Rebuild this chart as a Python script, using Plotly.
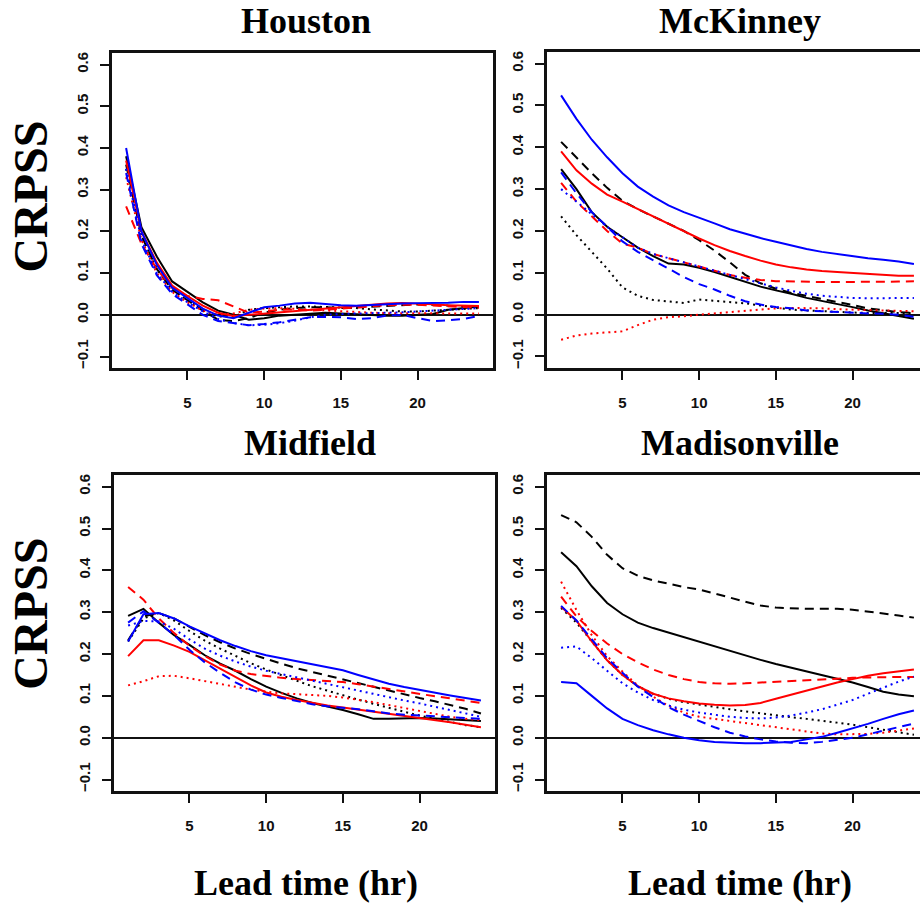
import plotly.graph_objects as go

# Lead times (hours)
LEAD = list(range(1, 25))

# ---- Houston ----
HOU_BLACK_SOLID = [0.38, 0.21, 0.14, 0.08, 0.055, 0.03, 0.01, 0.0, -0.012, -0.008, -0.002, 0.0,
                   0.003, 0.005, 0.003, 0.001, 0.0, -0.002, -0.002, 0.0, 0.002, 0.012, 0.016, 0.02]
HOU_BLACK_DASH = [0.36, 0.19, 0.11, 0.06, 0.035, 0.01, -0.012, -0.015, -0.008, 0.005, 0.012, 0.016,
                  0.018, 0.018, 0.016, 0.018, 0.02, 0.022, 0.024, 0.025, 0.024, 0.022, 0.02, 0.018]
HOU_BLACK_DOT = [0.35, 0.19, 0.11, 0.06, 0.035, 0.012, -0.004, -0.005, 0.012, 0.016, 0.018, 0.02,
                 0.02, 0.019, 0.018, 0.016, 0.013, 0.01, 0.008, 0.008, 0.01, 0.012, 0.014, 0.016]
HOU_RED_SOLID = [0.37, 0.2, 0.125, 0.07, 0.045, 0.022, 0.005, -0.003, 0.0, 0.003, 0.006, 0.009,
                 0.012, 0.015, 0.017, 0.02, 0.024, 0.027, 0.028, 0.027, 0.025, 0.023, 0.022, 0.021]
HOU_RED_DASH = [0.26, 0.17, 0.11, 0.065, 0.045, 0.038, 0.035, 0.02, 0.005, 0.008, 0.012, 0.013,
                0.01, 0.012, 0.015, 0.018, 0.021, 0.023, 0.024, 0.024, 0.022, 0.02, 0.018, 0.017]
HOU_RED_DOT = [0.33, 0.18, 0.1, 0.055, 0.03, 0.01, 0.0, 0.003, 0.012, 0.015, 0.016, 0.014,
               0.012, 0.01, 0.008, 0.006, 0.005, 0.004, 0.004, 0.004, 0.003, 0.003, 0.003, 0.003]
HOU_BLUE_SOLID = [0.40, 0.2, 0.12, 0.065, 0.04, 0.015, -0.002, -0.008, 0.005, 0.018, 0.022, 0.027,
                  0.029, 0.026, 0.023, 0.022, 0.024, 0.026, 0.027, 0.028, 0.028, 0.029, 0.031, 0.031]
HOU_BLUE_DASH = [0.34, 0.17, 0.095, 0.05, 0.025, 0.0, -0.015, -0.02, -0.025, -0.022, -0.018, -0.012,
                 -0.006, -0.005, -0.006, -0.01, -0.008, -0.002, 0.0, -0.008, -0.015, -0.013, -0.01, -0.003]
HOU_BLUE_DOT = [0.35, 0.18, 0.1, 0.055, 0.03, 0.008, -0.01, -0.02, -0.025, -0.024, -0.02, -0.014,
                -0.006, 0.0, 0.002, 0.003, 0.003, 0.004, 0.006, 0.008, 0.01, 0.012, 0.014, 0.016]

# ---- McKinney ----
MCK_BLACK_SOLID = [0.348, 0.30, 0.245, 0.21, 0.185, 0.16, 0.14, 0.122, 0.12, 0.112, 0.102, 0.09,
                   0.078, 0.067, 0.058, 0.05, 0.04, 0.033, 0.026, 0.018, 0.01, 0.003, -0.003, -0.01]
MCK_BLACK_DASH = [0.413, 0.375, 0.338, 0.303, 0.272, 0.252, 0.235, 0.218, 0.2, 0.178, 0.153, 0.125,
                  0.095, 0.075, 0.062, 0.052, 0.045, 0.037, 0.03, 0.023, 0.015, 0.01, 0.006, 0.004]
MCK_BLACK_DOT = [0.235, 0.19, 0.15, 0.11, 0.065, 0.045, 0.035, 0.032, 0.028, 0.036, 0.033, 0.03,
                 0.027, 0.022, 0.017, 0.012, 0.01, 0.008, 0.006, 0.005, 0.004, 0.004, 0.004, 0.004]
MCK_RED_SOLID = [0.39, 0.345, 0.313, 0.287, 0.27, 0.252, 0.236, 0.218, 0.2, 0.182, 0.166, 0.152,
                 0.14, 0.129, 0.12, 0.113, 0.108, 0.104, 0.102, 0.1, 0.098, 0.095, 0.093, 0.093]
MCK_RED_DASH = [0.315, 0.27, 0.235, 0.2, 0.17, 0.16, 0.145, 0.135, 0.125, 0.115, 0.105, 0.095,
                0.088, 0.083, 0.08, 0.079, 0.078, 0.078, 0.078, 0.078, 0.078, 0.079, 0.079, 0.08]
MCK_RED_DOT = [-0.06, -0.05, -0.045, -0.042, -0.04, -0.025, -0.012, -0.006, -0.004, 0.0, 0.003, 0.006,
               0.009, 0.013, 0.015, 0.016, 0.016, 0.015, 0.013, 0.012, 0.011, 0.01, 0.009, 0.008]
MCK_BLUE_SOLID = [0.524, 0.468, 0.418, 0.376, 0.338, 0.306, 0.282, 0.261, 0.245, 0.232, 0.218, 0.204,
                  0.193, 0.183, 0.174, 0.165, 0.157, 0.15, 0.145, 0.139, 0.135, 0.131, 0.127, 0.121]
MCK_BLUE_DASH = [0.34, 0.29, 0.245, 0.21, 0.175, 0.15, 0.13, 0.11, 0.09, 0.073, 0.06, 0.045,
                 0.032, 0.024, 0.018, 0.015, 0.01, 0.008, 0.006, 0.004, 0.003, 0.002, 0.0, -0.005]
MCK_BLUE_DOT = [0.30, 0.27, 0.24, 0.21, 0.185, 0.16, 0.145, 0.135, 0.125, 0.115, 0.105, 0.095,
                0.085, 0.075, 0.065, 0.057, 0.05, 0.045, 0.042, 0.04, 0.039, 0.039, 0.039, 0.04]

# ---- Midfield ----
MID_BLACK_SOLID = [0.291, 0.308, 0.275, 0.245, 0.222, 0.197, 0.177, 0.16, 0.14, 0.122, 0.107, 0.094,
                   0.083, 0.075, 0.066, 0.056, 0.045, 0.045, 0.046, 0.047, 0.046, 0.044, 0.042, 0.04]
MID_BLACK_DASH = [0.233, 0.29, 0.298, 0.285, 0.265, 0.245, 0.228, 0.213, 0.2, 0.188, 0.177, 0.166,
                  0.157, 0.148, 0.139, 0.131, 0.122, 0.113, 0.104, 0.095, 0.087, 0.078, 0.069, 0.058]
MID_BLACK_DOT = [0.23, 0.285, 0.298, 0.28, 0.255, 0.232, 0.213, 0.195, 0.178, 0.163, 0.149, 0.136,
                 0.123, 0.112, 0.101, 0.091, 0.081, 0.071, 0.062, 0.053, 0.045, 0.037, 0.03, 0.025]
MID_RED_SOLID = [0.195, 0.233, 0.233, 0.22, 0.205, 0.185, 0.165, 0.145, 0.125, 0.108, 0.098, 0.09,
                 0.083, 0.077, 0.072, 0.067, 0.062, 0.057, 0.053, 0.048, 0.043, 0.037, 0.031, 0.025]
MID_RED_DASH = [0.36, 0.33, 0.285, 0.25, 0.22, 0.195, 0.175, 0.16, 0.152, 0.147, 0.143, 0.14,
                0.138, 0.136, 0.133, 0.128, 0.122, 0.116, 0.11, 0.104, 0.099, 0.094, 0.089, 0.083]
MID_RED_DOT = [0.125, 0.135, 0.147, 0.148, 0.142, 0.135, 0.128, 0.122, 0.115, 0.11, 0.106, 0.104,
               0.102, 0.1, 0.096, 0.091, 0.085, 0.078, 0.071, 0.064, 0.057, 0.05, 0.045, 0.042]
MID_BLUE_SOLID = [0.23, 0.295, 0.298, 0.285, 0.266, 0.25, 0.233, 0.219, 0.207, 0.197, 0.19, 0.183,
                  0.176, 0.169, 0.161, 0.15, 0.139, 0.129, 0.121, 0.114, 0.107, 0.101, 0.095, 0.089]
MID_BLUE_DASH = [0.275, 0.302, 0.275, 0.245, 0.21, 0.18, 0.155, 0.132, 0.115, 0.103, 0.095, 0.087,
                 0.08, 0.075, 0.072, 0.068, 0.063, 0.058, 0.055, 0.053, 0.051, 0.049, 0.047, 0.045]
MID_BLUE_DOT = [0.268, 0.279, 0.278, 0.26, 0.235, 0.213, 0.196, 0.182, 0.17, 0.16, 0.152, 0.144,
                0.137, 0.129, 0.121, 0.112, 0.104, 0.096, 0.089, 0.082, 0.074, 0.066, 0.058, 0.05]

# ---- Madisonville ----
MAD_BLACK_SOLID = [0.443, 0.41, 0.362, 0.322, 0.295, 0.275, 0.262, 0.251, 0.24, 0.229, 0.218, 0.207,
                   0.196, 0.186, 0.176, 0.167, 0.158, 0.149, 0.141, 0.132, 0.121, 0.11, 0.103, 0.099]
MAD_BLACK_DASH = [0.532, 0.515, 0.48, 0.437, 0.405, 0.387, 0.376, 0.368, 0.36, 0.354, 0.345, 0.335,
                  0.325, 0.316, 0.311, 0.309, 0.308, 0.308, 0.308, 0.306, 0.302, 0.297, 0.292, 0.287]
MAD_BLACK_DOT = [0.31, 0.275, 0.23, 0.185, 0.15, 0.123, 0.105, 0.093, 0.085, 0.079, 0.073, 0.068,
                 0.063, 0.058, 0.053, 0.049, 0.045, 0.041, 0.036, 0.031, 0.025, 0.018, 0.012, 0.007]
MAD_RED_SOLID = [0.313, 0.28, 0.23, 0.185, 0.15, 0.123, 0.105, 0.094, 0.087, 0.082, 0.079, 0.077,
                 0.078, 0.083, 0.093, 0.103, 0.113, 0.123, 0.132, 0.14, 0.148, 0.154, 0.159, 0.163]
MAD_RED_DASH = [0.337, 0.29, 0.255, 0.225, 0.2, 0.18, 0.163, 0.15, 0.14, 0.133, 0.13, 0.129,
                0.13, 0.132, 0.134, 0.136, 0.138, 0.14, 0.142, 0.143, 0.144, 0.145, 0.145, 0.145]
MAD_RED_DOT = [0.373, 0.305, 0.245, 0.195, 0.158, 0.125, 0.098, 0.076, 0.06, 0.05, 0.045, 0.04,
               0.035, 0.03, 0.025, 0.02, 0.014, 0.01, 0.008, 0.008, 0.009, 0.012, 0.017, 0.022]
MAD_BLUE_SOLID = [0.133, 0.13, 0.1, 0.07, 0.045, 0.03, 0.018, 0.008, 0.0, -0.006, -0.01, -0.012,
                  -0.013, -0.013, -0.012, -0.01, -0.004, 0.002, 0.012, 0.022, 0.033, 0.045, 0.056, 0.065]
MAD_BLUE_DASH = [0.315, 0.28, 0.235, 0.19, 0.155, 0.122, 0.097, 0.073, 0.055, 0.04, 0.025, 0.012,
                 0.003, -0.004, -0.009, -0.012, -0.013, -0.01, -0.005, 0.0, 0.008, 0.017, 0.026, 0.034]
MAD_BLUE_DOT = [0.215, 0.218, 0.19, 0.16, 0.13, 0.108, 0.09, 0.077, 0.067, 0.06, 0.055, 0.05,
                0.047, 0.046, 0.048, 0.053, 0.06, 0.068, 0.079, 0.09, 0.105, 0.12, 0.134, 0.146]

STATIONS = ["Houston", "McKinney", "Midfield", "Madisonville"]
COLORS = {"black": "#000000", "red": "#ff0000", "blue": "#0000ff"}
DASHES = {"solid": "solid", "dash": "9px,6px", "dot": "2px,4px"}

SERIES = {
    "Houston": {
        ("black", "solid"): HOU_BLACK_SOLID, ("black", "dash"): HOU_BLACK_DASH, ("black", "dot"): HOU_BLACK_DOT,
        ("red", "solid"): HOU_RED_SOLID, ("red", "dash"): HOU_RED_DASH, ("red", "dot"): HOU_RED_DOT,
        ("blue", "solid"): HOU_BLUE_SOLID, ("blue", "dash"): HOU_BLUE_DASH, ("blue", "dot"): HOU_BLUE_DOT,
    },
    "McKinney": {
        ("black", "solid"): MCK_BLACK_SOLID, ("black", "dash"): MCK_BLACK_DASH, ("black", "dot"): MCK_BLACK_DOT,
        ("red", "solid"): MCK_RED_SOLID, ("red", "dash"): MCK_RED_DASH, ("red", "dot"): MCK_RED_DOT,
        ("blue", "solid"): MCK_BLUE_SOLID, ("blue", "dash"): MCK_BLUE_DASH, ("blue", "dot"): MCK_BLUE_DOT,
    },
    "Midfield": {
        ("black", "solid"): MID_BLACK_SOLID, ("black", "dash"): MID_BLACK_DASH, ("black", "dot"): MID_BLACK_DOT,
        ("red", "solid"): MID_RED_SOLID, ("red", "dash"): MID_RED_DASH, ("red", "dot"): MID_RED_DOT,
        ("blue", "solid"): MID_BLUE_SOLID, ("blue", "dash"): MID_BLUE_DASH, ("blue", "dot"): MID_BLUE_DOT,
    },
    "Madisonville": {
        ("black", "solid"): MAD_BLACK_SOLID, ("black", "dash"): MAD_BLACK_DASH, ("black", "dot"): MAD_BLACK_DOT,
        ("red", "solid"): MAD_RED_SOLID, ("red", "dash"): MAD_RED_DASH, ("red", "dot"): MAD_RED_DOT,
        ("blue", "solid"): MAD_BLUE_SOLID, ("blue", "dash"): MAD_BLUE_DASH, ("blue", "dot"): MAD_BLUE_DOT,
    },
}

W, H = 920, 905


def px_x(p):
    return p / W


def px_y(p):
    return 1 - p / H


# Panel boxes in pixels: (left, right, top, bottom)
BOXES = {
    "Houston": (112, 493, 52, 368),
    "McKinney": (547, 920, 51, 368),
    "Midfield": (114, 495, 475, 792),
    "Madisonville": (547, 920, 475, 792),
}
PX_PER_HOUR = 15.34
X0 = 0.08
Y_RANGE = [-0.128, 0.628]

SERIF = "Liberation Serif, Times New Roman, serif"
SANS = "Liberation Sans, Arial, Helvetica, sans-serif"

fig = go.Figure()
layout = dict(
    width=W, height=H, margin=dict(l=0, r=0, t=0, b=0),
    paper_bgcolor="white", plot_bgcolor="white", showlegend=False,
)

for i, st in enumerate(STATIONS, start=1):
    left, right, top, bottom = BOXES[st]
    xr = [X0, X0 + (right - left) / PX_PER_HOUR]
    clipped = right >= W
    xname = "xaxis" if i == 1 else f"xaxis{i}"
    yname = "yaxis" if i == 1 else f"yaxis{i}"
    xid = "x" if i == 1 else f"x{i}"
    yid = "y" if i == 1 else f"y{i}"
    layout[xname] = dict(
        domain=[px_x(left), min(px_x(right), 1.0)], range=xr, anchor=yid,
        tickvals=[5, 10, 15, 20], ticks="outside", ticklen=9, tickwidth=1.5, tickcolor="#111",
        showline=True, linewidth=2.5, linecolor="#111", mirror=True,
        showgrid=False, zeroline=False,
        tickfont=dict(family=SANS, size=15, color="#111", weight="bold"),
        ticklabelstandoff=10,
    )
    layout[yname] = dict(
        domain=[px_y(bottom), px_y(top)], range=Y_RANGE, anchor=xid,
        tickvals=[-0.1, 0.0, 0.1, 0.2, 0.3, 0.4, 0.5, 0.6], tickformat=".1f",
        tickangle=-90, ticks="outside", ticklen=9, tickwidth=1.5, tickcolor="#111",
        showline=True, linewidth=2.5, linecolor="#111", mirror=not clipped,
        showgrid=False, zeroline=True, zerolinecolor="#111", zerolinewidth=2,
        tickfont=dict(family=SANS, size=15, color="#111", weight="bold"),
        ticklabelstandoff=6,
    )
    for color in ["black", "red", "blue"]:
        for dash in ["solid", "dash", "dot"]:
            fig.add_trace(go.Scatter(
                x=LEAD, y=SERIES[st][(color, dash)], mode="lines",
                line=dict(color=COLORS[color], width=2, dash=DASHES[dash]),
                xaxis=xid, yaxis=yid, hoverinfo="skip",
            ))

annotations = []
# Panel titles
for st, cx, cy in [("Houston", 306, 20), ("McKinney", 740, 20),
                   ("Midfield", 310, 443), ("Madisonville", 740, 443)]:
    annotations.append(dict(
        text=f"<b>{st}</b>", x=px_x(cx), y=px_y(cy), xref="paper", yref="paper",
        xanchor="center", yanchor="middle", showarrow=False,
        font=dict(family=SERIF, size=36, color="black"),
    ))
# Y axis titles
for cy in [196, 614]:
    annotations.append(dict(
        text="<b>CRPSS</b>", x=px_x(31), y=px_y(cy), xref="paper", yref="paper",
        xanchor="center", yanchor="middle", showarrow=False, textangle=-90,
        font=dict(family=SERIF, size=48, color="black"),
    ))
# X axis titles
for cx in [306, 740]:
    annotations.append(dict(
        text="<b>Lead time (hr)</b>", x=px_x(cx), y=px_y(884), xref="paper", yref="paper",
        xanchor="center", yanchor="middle", showarrow=False,
        font=dict(family=SERIF, size=36, color="black"),
    ))
layout["annotations"] = annotations

fig.update_layout(**layout)
fig.write_html("out.html")
